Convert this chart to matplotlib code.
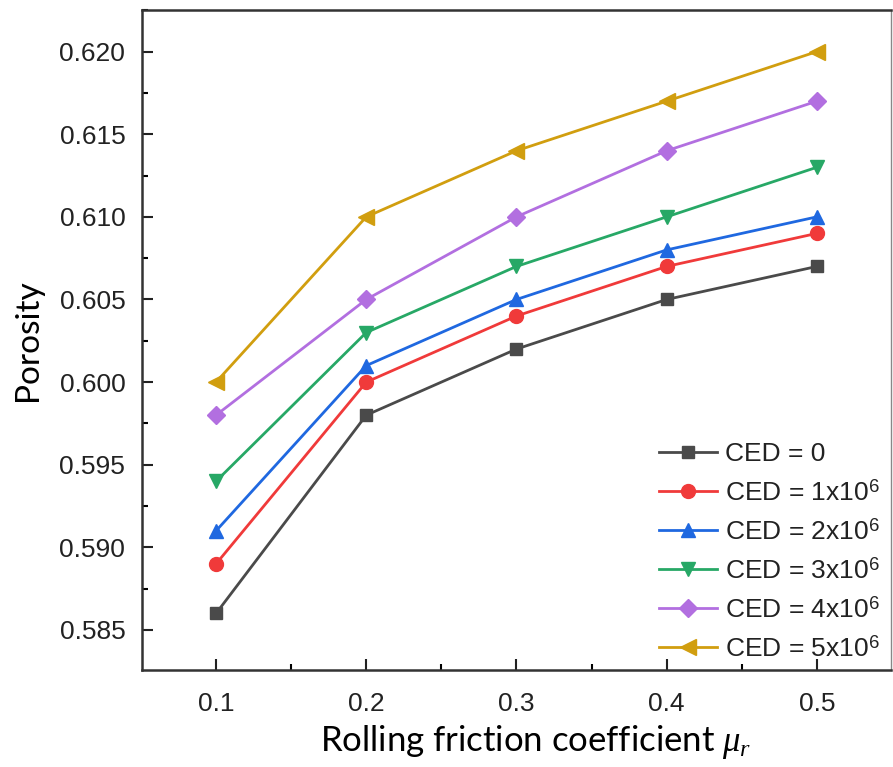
import matplotlib
matplotlib.use("Agg")
import matplotlib.pyplot as plt
from matplotlib.ticker import MultipleLocator

mu_r = [0.1, 0.2, 0.3, 0.4, 0.5]
ced0 = [0.586, 0.598, 0.602, 0.605, 0.607]
ced1 = [0.589, 0.600, 0.604, 0.607, 0.609]
ced2 = [0.591, 0.601, 0.605, 0.608, 0.610]
ced3 = [0.594, 0.603, 0.607, 0.610, 0.613]
ced4 = [0.598, 0.605, 0.610, 0.614, 0.617]
ced5 = [0.600, 0.610, 0.614, 0.617, 0.620]
labels = ["CED = 0", "CED = 1x10$^6$", "CED = 2x10$^6$",
          "CED = 3x10$^6$", "CED = 4x10$^6$", "CED = 5x10$^6$"]
series = [ced0, ced1, ced2, ced3, ced4, ced5]
colors = ["#4a4a4a", "#f03a3a", "#1f68e0", "#27a866", "#b26fe0", "#d19e0f"]
markers = ["s", "o", "^", "v", "D", "<"]
msizes = [9, 10, 10, 10, 9, 11]

plt.rcParams["font.family"] = ["Liberation Sans", "DejaVu Sans"]
plt.rcParams["mathtext.fontset"] = "custom"
plt.rcParams["mathtext.rm"] = "Liberation Sans"
plt.rcParams["mathtext.it"] = "Liberation Serif:italic"

fig = plt.figure(figsize=(8.93, 7.67), dpi=100)
ax = fig.add_axes([0.159, 0.1265, 0.839, 0.8605])

for y, lab, c, m, ms in zip(series, labels, colors, markers, msizes):
    ax.plot(mu_r, y, color=c, marker=m, markersize=ms, linewidth=2.0, label=lab)

ax.set_xlim(0.0507, 0.5495)
ax.set_ylim(0.58258, 0.62252)
ax.set_xticks(mu_r)
ax.set_xticklabels(["0.1", "0.2", "0.3", "0.4", "0.5"])
ax.yaxis.set_major_locator(MultipleLocator(0.005))
ax.yaxis.set_major_formatter(matplotlib.ticker.FormatStrFormatter("%.3f"))
ax.xaxis.set_minor_locator(MultipleLocator(0.05))
ax.yaxis.set_minor_locator(MultipleLocator(0.0025))
ax.tick_params(which="major", direction="in", length=8, width=1.5, labelsize=19, pad=12, colors="#222222")
ax.tick_params(which="minor", direction="in", length=4, width=1.5)
ax.tick_params(axis="x", pad=16)
for s in ax.spines.values():
    s.set_linewidth(1.8)
    s.set_color("#333333")
ax.spines["right"].set_linewidth(1.0)
ax.spines["right"].set_color("#888888")

ax.set_xlabel(r"Rolling friction coefficient $\mu_r$", fontsize=25, family=["Lato", "DejaVu Sans"])
ax.xaxis.set_label_coords(0.525, -0.08)
ax.set_ylabel("Porosity", fontsize=24, family=["Lato", "DejaVu Sans"], labelpad=12)

leg = ax.legend(loc="lower right", bbox_to_anchor=(0.9987, -0.003), frameon=False,
                fontsize=19, handlelength=2.2, handletextpad=0.3, labelspacing=0.5,
                borderaxespad=0.0)
for t in leg.get_texts():
    t.set_color("#222222")

fig.savefig("out.png", dpi=100)
